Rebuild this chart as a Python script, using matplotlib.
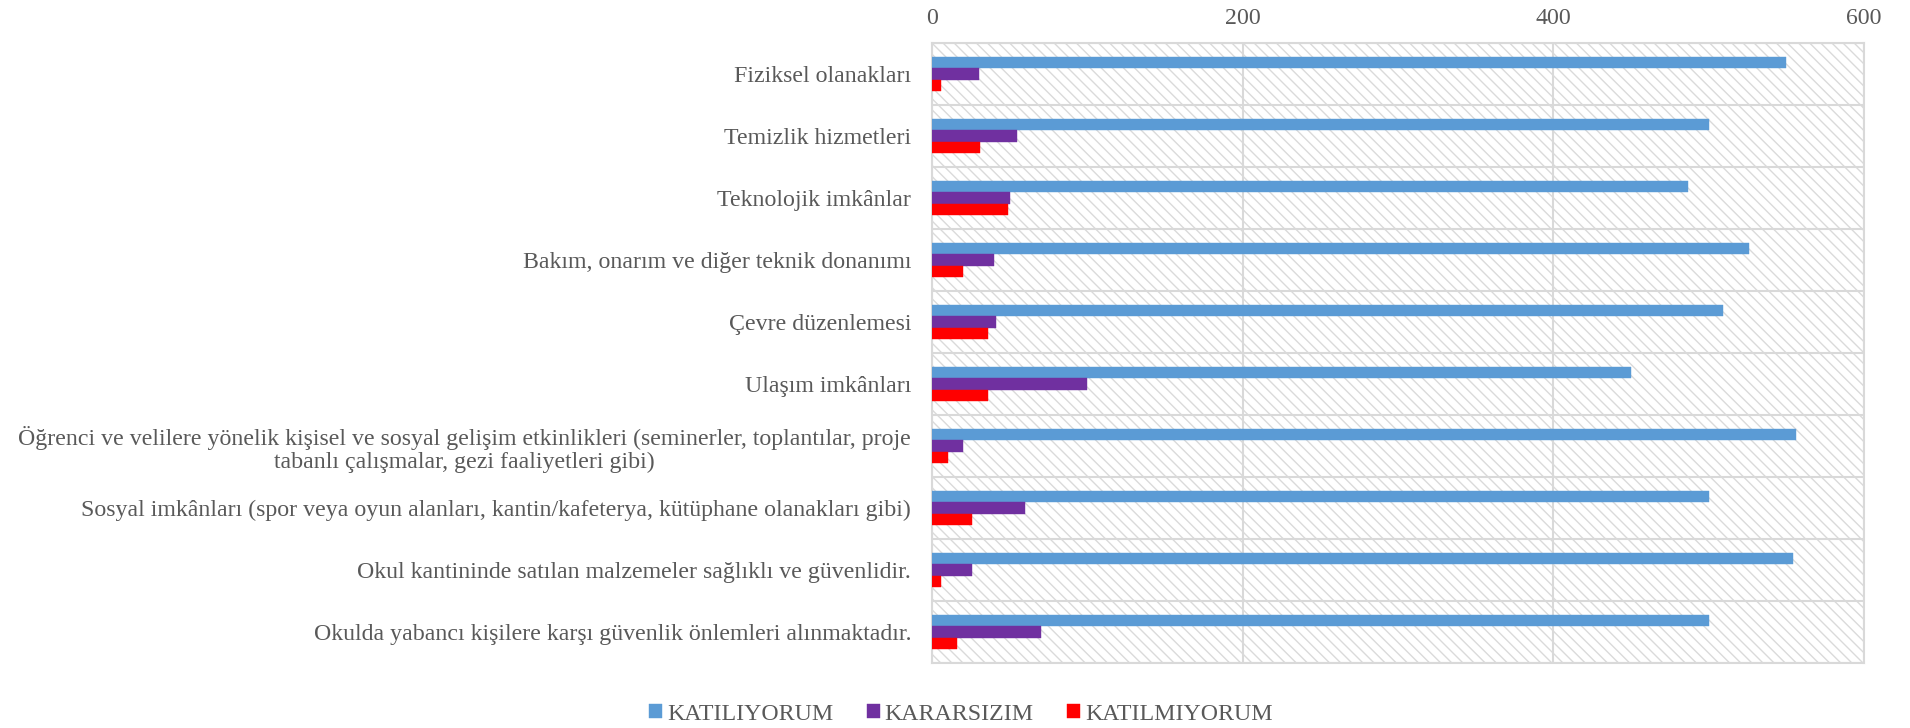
import matplotlib
matplotlib.use("Agg")
import matplotlib.pyplot as plt
from matplotlib.patches import Rectangle
import numpy as np

categories = [
    "Fiziksel olanakları",
    "Temizlik hizmetleri",
    "Teknolojik imkânlar",
    "Bakım, onarım ve diğer teknik donanımı",
    "Çevre düzenlemesi",
    "Ulaşım imkânları",
    "Öğrenci ve velilere yönelik kişisel ve sosyal gelişim etkinlikleri (seminerler, toplantılar, proje\ntabanlı çalışmalar, gezi faaliyetleri gibi)",
    "Sosyal imkânları (spor veya oyun alanları, kantin/kafeterya, kütüphane olanakları gibi)",
    "Okul kantininde satılan malzemeler sağlıklı ve güvenlidir.",
    "Okulda yabancı kişilere karşı güvenlik önlemleri alınmaktadır.",
]
katiliyorum = [550, 500, 487, 526, 509, 450, 556, 500, 554, 500]
kararsizim = [30, 55, 50, 40, 41, 100, 20, 60, 26, 70]
katilmiyorum = [6, 31, 49, 20, 36, 36, 10, 26, 6, 16]
series_names = ["KATILIYORUM", "KARARSIZIM", "KATILMIYORUM"]
colors = ["#5B9BD5", "#7030A0", "#FF0000"]
xticks = [0, 200, 400, 600]

plt.rcParams['font.family'] = ['Liberation Serif', 'DejaVu Serif']
text_color = "#595959"
grid_color = "#D9D9D9"
fs = 17.2

fig = plt.figure(figsize=(19.1, 7.28), dpi=100)
ax = fig.add_axes([932/1910, 1 - 663/728, (1864-932)/1910, (663-43)/728])

ax.set_xlim(0, 600)
ax.set_ylim(len(categories) - 0.5, -0.5)

# hatched background
bg = Rectangle((0, 0), 1, 1, transform=ax.transAxes, facecolor="white",
               edgecolor="#DADADA", linewidth=0, hatch="\\\\\\", zorder=0)
ax.add_patch(bg)

# grid lines
for b in np.arange(-0.5, len(categories) + 0.5, 1.0):
    ax.axhline(b, color=grid_color, linewidth=1.5, zorder=1)
for xv in xticks:
    ax.axvline(xv, color=grid_color, linewidth=1.5, zorder=1)

y = np.arange(len(categories))
h = 0.18
for i, (vals, name, c) in enumerate(zip([katiliyorum, kararsizim, katilmiyorum], series_names, colors)):
    ax.barh(y + (i - 1) * h, vals, height=h, color=c, label=name, zorder=3,
            edgecolor=c, linewidth=0.3)

ax.set_yticks(y)
ax.set_yticklabels(categories, fontsize=fs, color=text_color, multialignment="center",
                   linespacing=1.1)
ax.set_xticks(xticks)
ax.set_xticklabels([str(v) for v in xticks], fontsize=fs, color=text_color)
ax.xaxis.tick_top()
ax.tick_params(axis="both", length=0)
ax.tick_params(axis="y", pad=15)
ax.tick_params(axis="x", pad=10)
for s in ax.spines.values():
    s.set_color(grid_color)
    s.set_linewidth(1.5)

leg = fig.legend(loc="center", bbox_to_anchor=(0.503, 1 - 714/728), ncol=3, frameon=False,
                 fontsize=fs, handlelength=0.55, handleheight=0.55, handletextpad=0.2,
                 columnspacing=1.4)
for t in leg.get_texts():
    t.set_color(text_color)

fig.savefig("out.png", dpi=100)
